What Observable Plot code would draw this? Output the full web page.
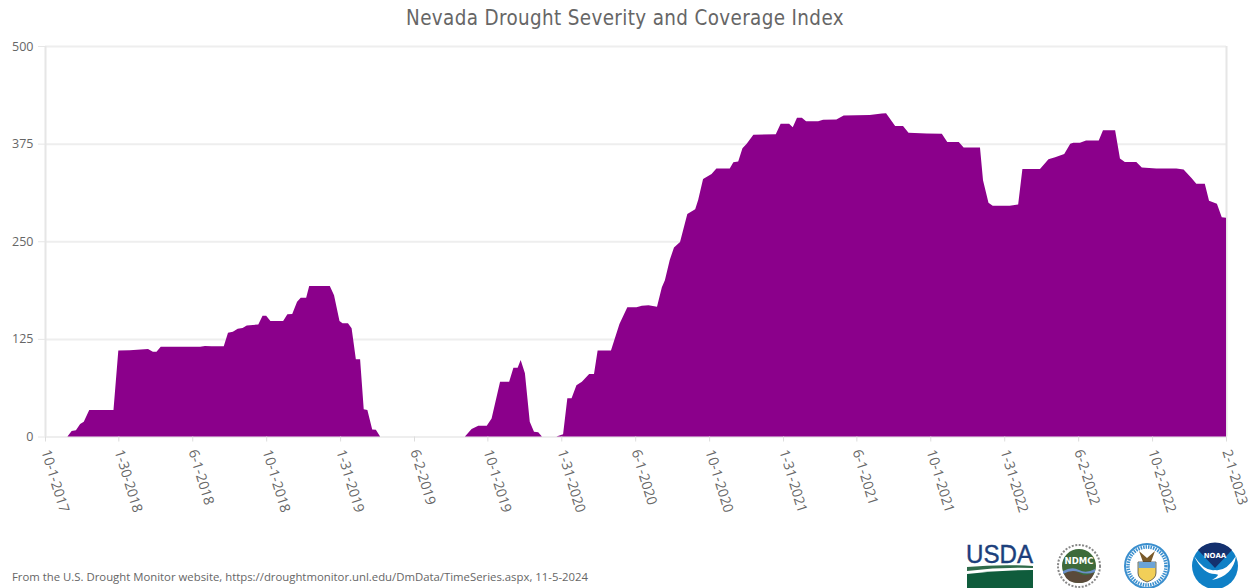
<!DOCTYPE html>
<html>
<head>
<meta charset="utf-8">
<script src="https://cdn.jsdelivr.net/npm/d3@7"></script>
<script src="https://cdn.jsdelivr.net/npm/@observablehq/plot@0.6"></script>
<style>
html,body{margin:0;padding:0;background:#fff;}
#page{position:relative;width:1252px;height:588px;overflow:hidden;font-family:"Open Sans",sans-serif;}
#page svg{display:block;}
#title{position:absolute;left:0;width:1250px;top:4px;text-align:center;font-family:"DejaVu Sans",sans-serif;font-stretch:condensed;font-size:20.4px;letter-spacing:.37px;line-height:28px;color:#666;}
#caption{position:absolute;left:12px;top:569px;font-size:11.35px;line-height:16px;color:#666;}
#logos{position:absolute;left:960px;top:540px;}
</style>
</head>
<body>
<div id="page">
<div id="chart"></div>
<div id="title">Nevada Drought Severity and Coverage Index</div>
<div id="caption">From the U.S. Drought Monitor website, https://droughtmonitor.unl.edu/DmData/TimeSeries.aspx, 11-5-2024</div>
<svg id="logos" width="292" height="48" viewBox="960 540 292 48">
  <text x="966" y="563" font-family="Liberation Sans" font-size="25" textLength="67" lengthAdjust="spacingAndGlyphs" fill="#1c3f7c" stroke="#1c3f7c" stroke-width=".4">USDA</text>
  <path d="M967 567 Q1000 564 1033 566 L1033 568 Q1000 567 967 571Z" fill="#2f6b4a"/>
  <path d="M967 574 Q1000 570 1033 570 L1033 588 L967 588Z" fill="#0f5c3c"/>
  <circle cx="1079" cy="566" r="21" fill="#fff" stroke="#888" stroke-width="2" stroke-dasharray="2 1.5"/>
  <circle cx="1079" cy="566" r="17" fill="#3d6a3a"/>
  <path d="M1064 574 Q1072 568 1079 573 T1094 572 Q1092 583 1079 583 Q1067 583 1064 574Z" fill="#5a4a3a"/>
  <path d="M1063 571 Q1072 566 1079 570 T1095 569 L1095 572 Q1087 575 1079 572 T1063 574Z" fill="#6b8fc9"/>
  <text x="1079" y="564" text-anchor="middle" font-family="DejaVu Sans" font-weight="bold" font-size="8.5" fill="#fff">NDMC</text>
  <circle cx="1147" cy="566" r="22" fill="#fff" stroke="#3b8fce" stroke-width="2"/>
  <circle cx="1147" cy="566" r="19" fill="none" stroke="#3b8fce" stroke-width="3.5" stroke-dasharray="1.5 1"/>
  <path d="M1139 551 L1147 558 L1155 551 L1151 562 L1143 562Z" fill="#7a5a2a"/>
  <path d="M1138 562 H1156 V573 Q1156 579 1147 582 Q1138 579 1138 573Z" fill="#f2cf58" stroke="#333" stroke-width=".7"/>
  <rect x="1138.5" y="562" width="17" height="6" fill="#6ba3d6"/>
  <circle cx="1215" cy="566" r="23" fill="#0f80c6"/>
  <path d="M1198 550 A23 23 0 0 1 1232 550 L1215 568Z" fill="#14306e"/>
  <path d="M1194 556 Q1205 572 1215 570 Q1226 572 1236 556 Q1233 576 1212 580 Q1222 574 1215 574 Q1203 574 1194 556Z" fill="#fff"/>
  <text x="1215" y="558" text-anchor="middle" font-family="DejaVu Sans" font-weight="bold" font-size="7" fill="#fff">NOAA</text>
</svg>
</div>
<script>
const startDate = "2017-10-01";
const endDate = "2023-02-01";
const dayOffsets = [37,44,51,58,64,73,113,121,140,170,178,184,191,256,264,275,295,302,310,318,326,333,352,359,365,372,393,400,408,416,422,431,436,470,477,486,491,500,506,513,520,526,532,540,546,553,
693,704,715,729,737,751,766,773,780,785,792,800,807,814,820,844,855,862,869,877,886,898,906,912,934,948,961,976,985,996,1010,1018,1023,1031,1038,1048,1060,1073,1078,1086,1100,1108,1130,1136,1144,1151,1158,1169,1206,1214,1228,1234,1241,1249,1256,1276,1284,1306,1318,1361,1381,1388,1403,1416,1425,1455,1480,1489,1508,1516,1543,1548,1557,1564,1592,1606,1613,1642,1656,1667,1682,1692,1697,1708,1718,1739,1746,1766,1774,1782,1801,1810,1834,1867,1879,1892,1900,1914,1921,1934,1942,1949];
const dsci = [0,7,8,16,19,34,34,110,110.5,112,108.5,108.5,115,115,116,115.5,115.5,133,134,138,139,142,143.5,154.7,154.7,148,148,156.5,157,172.6,177.7,177.7,192.7,192.7,181,148,145,145,138.5,99,99,35,34,9,8.5,0,
0,9.6,13.8,13.8,23,70,70,88,88,98,81,19,6,5.5,0,0,3,49,49,65.5,70,80,80,110,110,144,165.4,165.4,167.5,168,166,191,200,226,242,249,285,291,303,329.7,336,343,343,351,352,369,375,386.5,387,400.5,400.5,396,408,408,403.6,403.6,405.7,406,411,411.5,413.5,414,397.6,397.6,389,388,387.7,377,377,370,370,328,299.4,295.5,295.5,297,342.5,342.5,355,357.5,361.7,375,376,376,379,379,392,392,356,351.5,351.5,344.5,343.3,343.3,342,331,323.7,323.7,302,298,280.7,280];
const tickLabels = ["10-1-2017","1-30-2018","6-1-2018","10-1-2018","1-31-2019","6-2-2019","10-1-2019","1-31-2020","6-1-2020","10-1-2020","1-31-2021","6-1-2021","10-1-2021","1-31-2022","6-2-2022","10-2-2022","2-1-2023"];
const yTicks = [0,125,250,375,500];

const t0 = new Date(startDate + "T00:00:00Z");
const t1 = new Date(endDate + "T00:00:00Z");
const rows = dayOffsets.map((d, i) => ({date: d3.utcDay.offset(t0, d), value: dsci[i]}));
const parseTick = d3.utcParse("%m-%d-%Y");
const tickDates = tickLabels.map(parseTick);
const labelOf = new Map(tickDates.map((d, i) => [+d, tickLabels[i]]));

const plot = Plot.plot({
  width: 1252, height: 588,
  marginLeft: 45, marginRight: 26, marginTop: 46, marginBottom: 151.5,
  style: {background: "transparent", fontFamily: "'Open Sans',sans-serif", overflow: "visible"},
  x: {type: "utc", domain: [t0, t1]},
  y: {domain: [0, 500]},
  marks: [
    Plot.ruleY(yTicks, {stroke: "#eeeeee", strokeWidth: 2}),
    Plot.ruleX([t0, t1], {stroke: "#e6e6e6", strokeWidth: 2}),
    Plot.areaY(rows, {x: "date", y: "value", fill: "#8b008b", curve: "linear"}),
    Plot.axisY({ticks: yTicks, tickSize: 7, tickPadding: 5, fontSize: 12.5, color: "#666", stroke: "#e6e6e6", label: null}),
    Plot.axisX({ticks: tickDates, tickFormat: d => labelOf.get(+d), tickRotate: 73, tickSize: 5, tickPadding: 8, fontSize: 14, color: "#666", stroke: "#ddd", label: null, marginBottom: 151.5})
  ]
});
document.getElementById("chart").appendChild(plot);
</script>
</body>
</html>
